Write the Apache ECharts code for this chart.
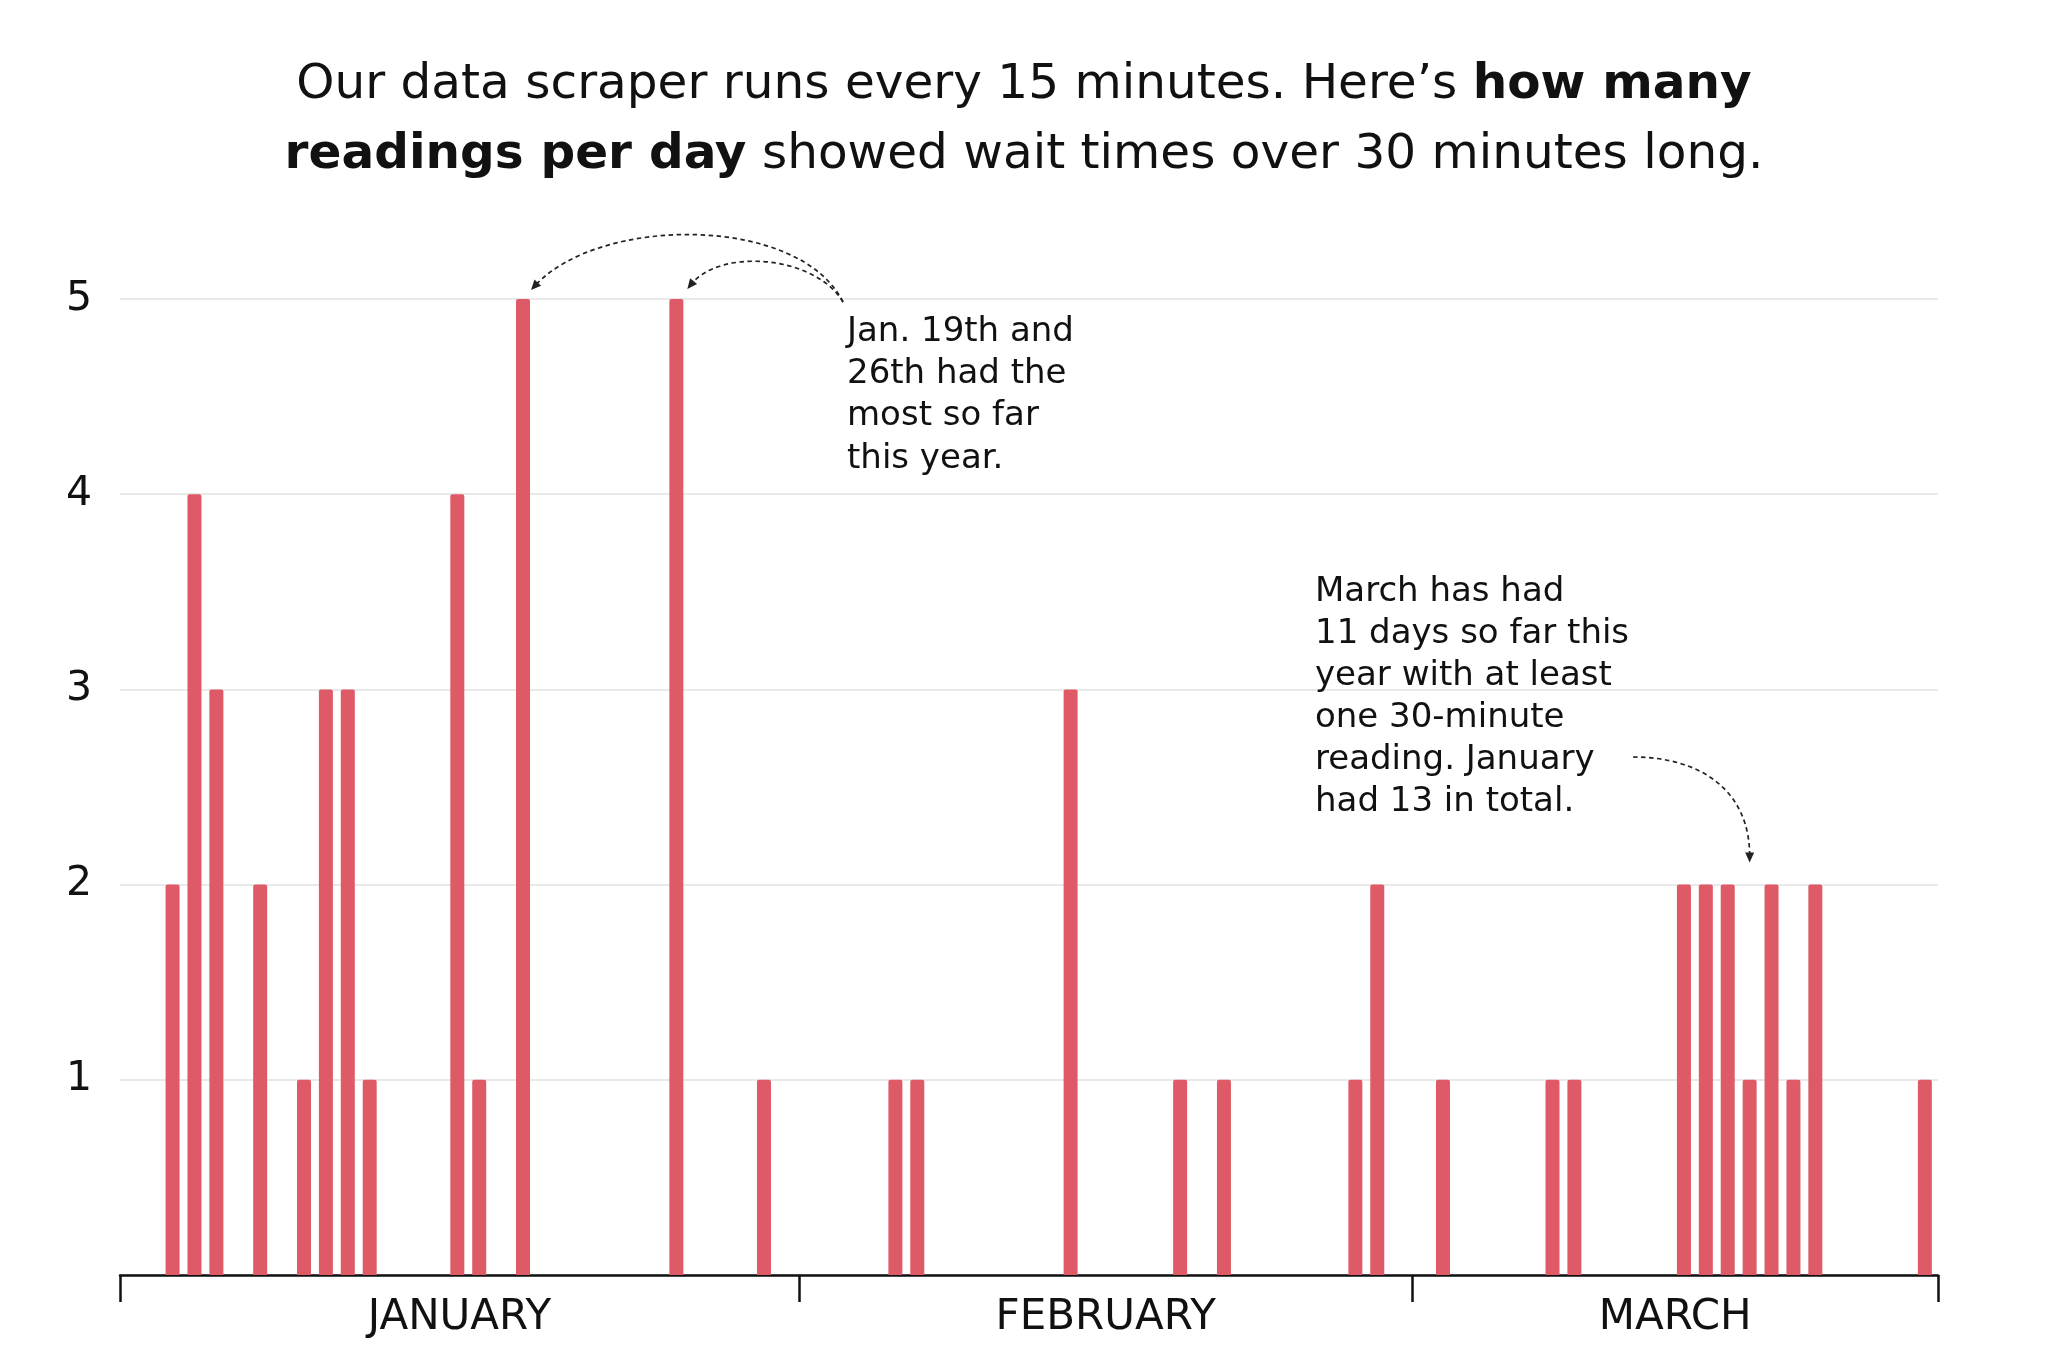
<!DOCTYPE html>
<html>
<head>
<meta charset="utf-8">
<script src="https://cdn.jsdelivr.net/npm/echarts@6/dist/echarts.min.js"></script>
<style>
html,body{margin:0;padding:0;background:#fff;}
#chart{width:2048px;height:1365px;}
</style>
</head>
<body>
<div id="chart"></div>
<script>
// ---- data ----
const monthNames = ['JANUARY', 'FEBRUARY', 'MARCH'];
const monthDaysShown = [31, 28, 24];
// day of year (1 = Jan 1) of each day with at least one 30+ minute reading
const dayOfYear = [3, 4, 5, 7, 9, 10, 11, 12, 16, 17, 19, 26, 30,
                   36, 37, 44, 49, 51, 57, 58,
                   61, 66, 67, 72, 73, 74, 75, 76, 77, 78, 83];
// number of 15-minute readings that day showing waits over 30 minutes
const readings  = [2, 4, 3, 2, 1, 3, 3, 1, 4, 1, 5, 5, 1,
                   1, 1, 3, 1, 1, 1, 2,
                   1, 1, 1, 2, 2, 2, 1, 2, 1, 2, 1];
const yTickValues = [1, 2, 3, 4, 5];
const titleText = 'Our data scraper runs every 15 minutes. Here\u2019s {b|how many}\n{b|readings per day} showed wait times over 30 minutes long.';
const noteJan = 'Jan. 19th and\n26th had the\nmost so far\nthis year.';
const noteMar = 'March has had\n11 days so far this\nyear with at least\none 30-minute\nreading. January\nhad 13 in total.';

// ---- derived ----
const monthStarts = [0];
monthDaysShown.forEach(function (d, i) { monthStarts.push(monthStarts[i] + d); });
const monthCenters = monthNames.map(function (m, i) { return (monthStarts[i] + monthStarts[i + 1]) / 2; });
const totalDays = monthStarts[monthStarts.length - 1];
const BAR_POS = 0.6; // bar centre sits slightly before the middle of its day slot
const barData = dayOfYear.map(function (d, i) { return [d - BAR_POS, readings[i]]; });

const FONT = "'DejaVu Sans', sans-serif";
const BAR = '#dd5a66';

const chart = echarts.init(document.getElementById('chart'), null, {renderer: 'canvas'});

chart.setOption({
  backgroundColor: '#ffffff',
  animation: false,
  title: {
    text: titleText,
    left: 'center',
    top: 50,
    padding: 0,
    textStyle: {
      fontFamily: FONT, fontSize: 48.5, fontWeight: 'normal', color: '#111',
      lineHeight: 70,
      rich: { b: { fontFamily: FONT, fontSize: 48.5, fontWeight: 'bold', color: '#111', lineHeight: 70 } }
    }
  },
  grid: { left: 120, right: 110, top: 299, bottom: 90, containLabel: false },
  xAxis: {
    type: 'value',
    min: 0,
    max: totalDays,
    axisLine: { show: true, lineStyle: { color: '#111', width: 2.5 } },
    axisTick: { show: true, customValues: monthStarts, length: 27, inside: false,
                lineStyle: { color: '#111', width: 2.5 } },
    axisLabel: {
      customValues: monthCenters,
      formatter: function (v) {
        const i = monthCenters.indexOf(v);
        return i >= 0 ? monthNames[i] : '';
      },
      fontFamily: FONT, fontSize: 42, color: '#111', margin: 22
    },
    splitLine: { show: false }
  },
  yAxis: {
    type: 'value',
    min: 0, max: 5, interval: 1,
    axisLine: { show: false },
    axisTick: { show: false },
    axisLabel: {
      fontFamily: FONT, fontSize: 41, color: '#111', margin: 28,
      padding: [8, 0, 0, 0],
      formatter: function (v) { return yTickValues.indexOf(v) >= 0 ? String(v) : ''; }
    },
    splitLine: { show: true, lineStyle: { color: '#e2e2e2', width: 1.5 } }
  },
  series: [{
    type: 'bar',
    data: barData,
    barWidth: 14,
    itemStyle: { color: BAR, borderRadius: [2, 2, 0, 0] },
    silent: true
  }]
});

// ---- annotations anchored to data ----
function px(x, y) { return chart.convertToPixel({gridIndex: 0}, [x, y]); }

function arrow(s, c1, c2, e) {
  const dx = e[0] - c2[0], dy = e[1] - c2[1];
  const len = Math.sqrt(dx * dx + dy * dy) || 1;
  const ux = dx / len, uy = dy / len;
  const L = 10, W = 4.5;
  const bx = e[0] - ux * L, by = e[1] - uy * L;
  return [
    { type: 'bezierCurve', silent: true,
      shape: { x1: s[0], y1: s[1], cpx1: c1[0], cpy1: c1[1], cpx2: c2[0], cpy2: c2[1],
               x2: e[0] - ux * 6, y2: e[1] - uy * 6 },
      style: { stroke: '#222', lineWidth: 1.7, lineDash: [4.5, 3.5], fill: null } },
    { type: 'polygon', silent: true,
      shape: { points: [[e[0], e[1]], [bx - uy * W, by + ux * W], [bx + uy * W, by - ux * W]] },
      style: { fill: '#222' } }
  ];
}

const p19 = px(dayOfYear[10] - BAR_POS, readings[10]);
const p26 = px(dayOfYear[11] - BAR_POS, readings[11]);
const pMar = px(dayOfYear[26] - BAR_POS, 2);

const janStart = [843, 302];
const marStart = [1633, 757];

let graphics = [];
graphics = graphics.concat(arrow(janStart, [800, 215], [600, 215], [p19[0] + 8, p19[1] - 9]));
graphics = graphics.concat(arrow(janStart, [815, 255], [720, 248], [p26[0] + 11, p26[1] - 10]));
graphics = graphics.concat(arrow(marStart, [1700, 757], [1750, 790], [pMar[0], pMar[1] - 22]));

graphics.push({
  type: 'text', silent: true, left: 847, top: 311,
  style: { text: noteJan, fontFamily: FONT, fontSize: 34, lineHeight: 42.2, fill: '#111' }
});
graphics.push({
  type: 'text', silent: true, left: 1315, top: 571,
  style: { text: noteMar, fontFamily: FONT, fontSize: 34, lineHeight: 42, fill: '#111' }
});

chart.setOption({ graphic: graphics });
</script>
</body>
</html>
